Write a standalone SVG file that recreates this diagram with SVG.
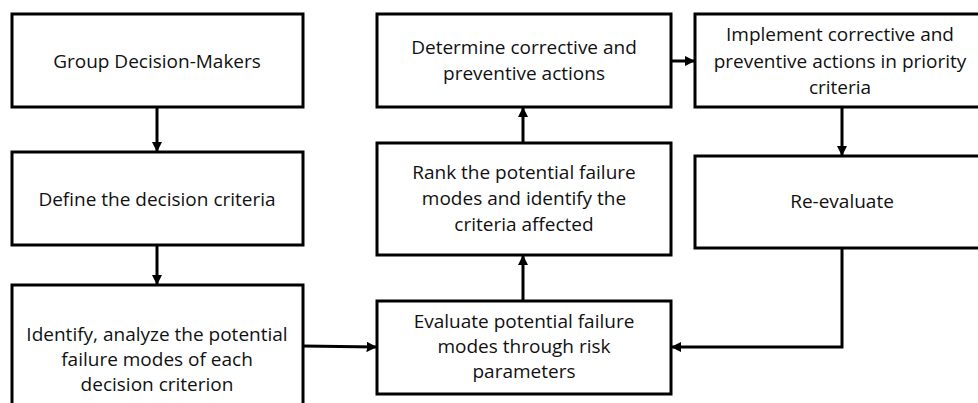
<svg xmlns="http://www.w3.org/2000/svg" width="978" height="403" viewBox="0 0 978 403">
<style>
.box{fill:#fff;stroke:#000;stroke-width:3}
.t{font-family:"Open Sans","Liberation Sans",sans-serif;font-size:19px;fill:#111;text-anchor:middle}
.c{fill:none;stroke:#000;stroke-width:3}
</style>
<defs>
<marker id="ah" viewBox="0 0 10 10" refX="9" refY="5" markerWidth="3.5" markerHeight="3.5" orient="auto" markerUnits="strokeWidth">
<path d="M0,0 L10,5 L0,10 z" fill="#000"/>
</marker>
</defs>
<rect width="978" height="403" fill="#fff"/>
<g id="connectors">
<line class="c" x1="157" y1="107" x2="157" y2="151" marker-end="url(#ah)"/>
<line class="c" x1="157" y1="245" x2="157" y2="284" marker-end="url(#ah)"/>
<line class="c" x1="303" y1="346" x2="376" y2="347" marker-end="url(#ah)"/>
<line class="c" x1="523" y1="301" x2="523" y2="256" marker-end="url(#ah)"/>
<line class="c" x1="523" y1="143" x2="523" y2="108" marker-end="url(#ah)"/>
<line class="c" x1="671" y1="61" x2="694" y2="61" marker-end="url(#ah)"/>
<line class="c" x1="842" y1="107" x2="842" y2="155" marker-end="url(#ah)"/>
<polyline class="c" points="842,248 842,347 672,347" marker-end="url(#ah)"/>
</g>
<g id="n1"><rect class="box" x="12" y="14" width="291" height="93"/><text class="t" x="157" y="68">Group Decision-Makers</text></g>
<g id="n2"><rect class="box" x="12" y="152" width="291" height="93"/><text class="t" x="157" y="206">Define the decision criteria</text></g>
<g id="n3"><rect class="box" x="12" y="285" width="291" height="130"/><text class="t" x="157" y="341">Identify, analyze the potential</text><text class="t" x="157" y="366">failure modes of each</text><text class="t" x="157" y="391">decision criterion</text></g>
<g id="n4"><rect class="box" x="377" y="301" width="294" height="93"/><text class="t" x="524" y="328">Evaluate potential failure</text><text class="t" x="524" y="353">modes through risk</text><text class="t" x="524" y="378">parameters</text></g>
<g id="n5"><rect class="box" x="377" y="143" width="294" height="112"/><text class="t" x="524" y="179">Rank the potential failure</text><text class="t" x="524" y="205">modes and identify the</text><text class="t" x="524" y="231">criteria affected</text></g>
<g id="n6"><rect class="box" x="377" y="14" width="294" height="93"/><text class="t" x="524" y="54">Determine corrective and</text><text class="t" x="524" y="80">preventive actions</text></g>
<g id="n7"><rect class="box" x="695" y="14" width="292" height="93"/><text class="t" x="840" y="41">Implement corrective and</text><text class="t" x="840" y="68">preventive actions in priority</text><text class="t" x="840" y="94">criteria</text></g>
<g id="n8"><rect class="box" x="695" y="156" width="292" height="92"/><text class="t" x="842" y="208">Re-evaluate</text></g>
</svg>
